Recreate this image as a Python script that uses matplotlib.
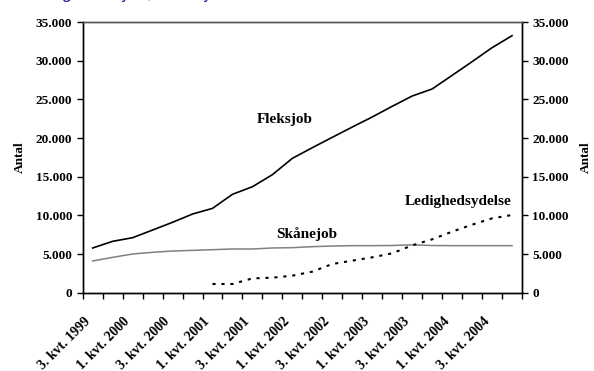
import numpy as np
import matplotlib.pyplot as plt
from matplotlib.ticker import FuncFormatter, MultipleLocator

# Quarters 3. kvt. 1999 - 4. kvt. 2004
kvartaler = ["3. kvt. 1999", "4. kvt. 1999",
             "1. kvt. 2000", "2. kvt. 2000", "3. kvt. 2000", "4. kvt. 2000",
             "1. kvt. 2001", "2. kvt. 2001", "3. kvt. 2001", "4. kvt. 2001",
             "1. kvt. 2002", "2. kvt. 2002", "3. kvt. 2002", "4. kvt. 2002",
             "1. kvt. 2003", "2. kvt. 2003", "3. kvt. 2003", "4. kvt. 2003",
             "1. kvt. 2004", "2. kvt. 2004", "3. kvt. 2004", "4. kvt. 2004"]

fleksjob = [5780, 6640, 7110, 8100, 9100, 10170, 10900, 12720, 13700, 15260, 17370,
            18750, 20090, 21420, 22720, 24100, 25430, 26340, 28100, 29870, 31680, 33230]
skaanejob = [4100, 4570, 5000, 5220, 5390, 5470, 5560, 5650, 5650, 5780, 5820,
             5950, 6030, 6080, 6080, 6100, 6180, 6100, 6080, 6080, 6080, 6080]
# ledighedsydelse starts in 1. kvt. 2001
ledighed = [np.nan] * 6 + [1120, 1120, 1850, 1940, 2200, 2720, 3710, 4140, 4570,
                           5090, 6120, 6900, 7890, 8790, 9610, 10040]

plt.rcParams['font.family'] = ['Liberation Serif', 'DejaVu Serif']
plt.rcParams['font.weight'] = 'bold'

fig = plt.figure(figsize=(5.94, 3.71), dpi=100)
ax = fig.add_axes([0.1392, 0.2111, 0.7396, 0.7296])
x = np.arange(len(kvartaler))

ax.plot(x, fleksjob, color='black', lw=1.2)
ax.plot(x, skaanejob, color='#808080', lw=1.1)
ax.plot(x, ledighed, color='black', lw=1.5, linestyle=(0, (1.5, 2.8)))

ax.set_xlim(-0.5, len(kvartaler) - 0.5)
ax.set_ylim(0, 35000)
fmt = FuncFormatter(lambda v, p: f"{v:,.0f}".replace(",", "."))
ax.yaxis.set_major_locator(MultipleLocator(5000))
ax.yaxis.set_major_formatter(fmt)

# ticks between the categories, labels on every second quarter
ax.set_xticks(np.arange(-0.5, len(kvartaler)), minor=False)
ax.set_xticklabels([])
ax.set_xticks(x[::2], minor=True)
ax.set_xticklabels(kvartaler[::2], minor=True, rotation=45, ha='right', va='top',
                   fontsize=10, fontweight='bold')
ax.tick_params(axis='x', which='minor', length=0, pad=16)
ax.tick_params(axis='x', which='major', length=4, width=1, direction='out')
ax.tick_params(axis='y', length=4, width=1, direction='out', labelsize=9.5)

ax.set_ylabel("Antal", fontsize=9.5, fontweight='bold', labelpad=7)

ax2 = ax.twinx()
ax2.set_ylim(0, 35000)
ax2.yaxis.set_major_locator(MultipleLocator(5000))
ax2.yaxis.set_major_formatter(fmt)
ax2.tick_params(axis='y', length=4, width=1, direction='out', labelsize=9.5)
ax2.set_ylabel("Antal", fontsize=9.5, fontweight='bold', rotation=90, labelpad=8)

for a in (ax, ax2):
    for s in a.spines.values():
        s.set_linewidth(1.0)
    a.spines['top'].set_color('#555555')

ax.text(9.6, 22330, "Fleksjob", fontsize=11, fontweight='bold', ha='center', va='center')
ax.text(10.7, 7590, "Skånejob", fontsize=11, fontweight='bold', ha='center', va='center')
ax.text(18.3, 11730, "Ledighedsydelse", fontsize=11, fontweight='bold', ha='center', va='center')

fig.text(0.0, 1.0 + 2 / 371, "Udvikling i fleksjob, skånejob", color='#1a1aa0', fontsize=13,
         style='italic', fontweight='normal', family=['Liberation Sans', 'DejaVu Sans'],
         ha='left', va='baseline')

fig.savefig("out.png", dpi=100)
